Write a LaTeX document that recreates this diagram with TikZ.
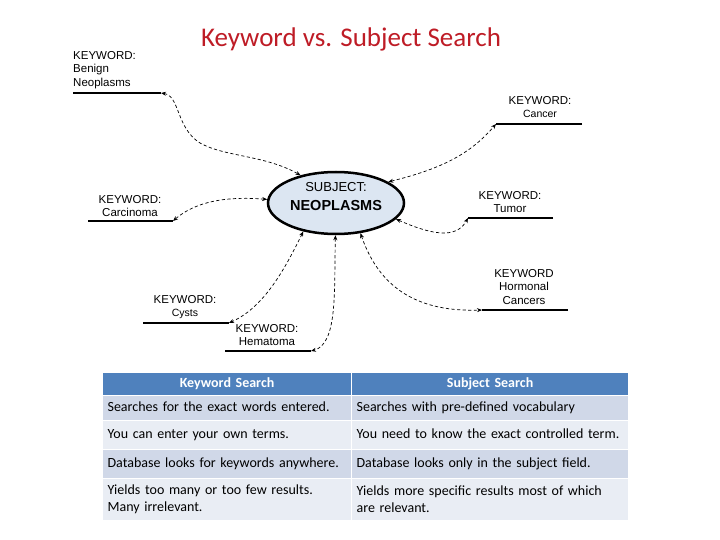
\documentclass[tikz,border=0pt]{standalone}
\usepackage{fontspec}
\setmainfont{Carlito}
\newfontfamily\arialf{Liberation Sans}
\usetikzlibrary{shapes.geometric,arrows.meta}
\definecolor{titlered}{RGB}{190,28,38}
\definecolor{hdrblue}{RGB}{79,129,189}
\definecolor{rowdark}{RGB}{208,216,232}
\definecolor{rowlight}{RGB}{233,237,244}
\definecolor{ellfill}{RGB}{220,230,242}
\begin{document}
\begin{tikzpicture}[x=1pt,y=-1pt,
 kwtext/.style={font=\arialf\fontsize{11.5}{13.8}\selectfont, align=center, inner sep=0pt},
 kwline/.style={line width=2.8pt},
 link/.style={dash pattern=on 3.2pt off 2.4pt, line width=0.7pt, {Stealth[length=5pt,width=4pt]}-{Stealth[length=5pt,width=4pt]}},
 cell/.style={rectangle, fill=#1, draw=white, line width=1.2pt, anchor=north west, inner xsep=5pt, inner ysep=0pt, font=\fontsize{14}{17}\selectfont, align=left},
 one/.style={text height=10pt, text depth=3.5pt},
 hcell/.style={cell=hdrblue, text=white, align=center, font=\fontsize{14}{17}\selectfont\bfseries, one},
]
\useasboundingbox (0,0) rectangle (720,540);

% title
\node[font=\fontsize{27}{32}\selectfont, text=titlered] (title) at (351,39) {Keyword vs. Subject Search};

% subject ellipse
\node[ellipse, draw, line width=2.5pt, fill=ellfill, minimum width=136pt, minimum height=62pt, inner sep=0pt] (subj) at (336,203) {};
\node[font=\arialf\fontsize{13}{15}\selectfont, inner sep=0pt] (subjA) at (336,187) {SUBJECT:};
\node[font=\arialf\fontsize{14.5}{16}\selectfont\bfseries, inner sep=0pt] (subjB) at (336,206) {NEOPLASMS};

% keyword labels
\node[kwtext, align=left, anchor=west] (kb) at (73,70) {KEYWORD:\\Benign\\Neoplasms};
\coordinate (kbS) at (73,93); \coordinate (kbE) at (161,93);
\draw[kwline] (kbS) -- (kbE);

\node[kwtext] (kc) at (540,107) {KEYWORD:\\{\fontsize{10.5}{12}\selectfont Cancer}};
\coordinate (kcS) at (582,124); \coordinate (kcE) at (496,124);
\draw[kwline] (kcS) -- (kcE);

\node[kwtext] (kr) at (130,206) {KEYWORD:\\Carcinoma};
\coordinate (krS) at (88,221); \coordinate (krE) at (173,221);
\draw[kwline] (krS) -- (krE);

\node[kwtext] (kt) at (510,202) {KEYWORD:\\Tumor};
\coordinate (ktS) at (553,218); \coordinate (ktE) at (468,218);
\draw[kwline] (ktS) -- (ktE);

\node[kwtext] (kh) at (524,287) {KEYWORD\\Hormonal\\Cancers};
\coordinate (khS) at (568,310); \coordinate (khE) at (482,310);
\draw[kwline] (khS) -- (khE);

\node[kwtext] (ky) at (185,307) {KEYWORD:\\{\fontsize{10.5}{12}\selectfont Cysts}};
\coordinate (kyS) at (143,323); \coordinate (kyE) at (229,323);
\draw[kwline] (kyS) -- (kyE);

\node[kwtext] (km) at (267,335) {KEYWORD:\\Hematoma};
\coordinate (kmS) at (225,351); \coordinate (kmE) at (311,351);
\draw[kwline] (kmS) -- (kmE);

% connectors
\draw[link] (kbE) .. controls (180,96) and (176,128) .. (200,143) .. controls (225,157) and (265,155) .. (subj.142);
\draw[link] (subj.22) .. controls (445,168) and (472,152) .. (kcE);
\draw[link] (subj.177) .. controls (225,196) and (195,202) .. (krE);
\draw[link] (subj.-15) .. controls (430,234) and (456,240) .. (ktE);
\draw[link] (subj.-51) .. controls (380,290) and (420,312) .. (khE);
\draw[link] (subj.-139) .. controls (282,275) and (262,308) .. (kyE);
\draw[link] (subj.-91) .. controls (334,290) and (338,344) .. (kmE);

% table
\node[hcell, text width=239pt, minimum height=23pt] (h1) at (102,372) {Keyword Search};
\node[hcell, text width=267pt, minimum height=23pt] (h2) at (351,372) {Subject Search};
\node[cell=rowdark, one, text width=239pt, minimum height=25pt] (a1) at (102,395) {Searches for the exact words entered.};
\node[cell=rowdark, one, text width=267pt, minimum height=25pt] (a2) at (351,395) {Searches with pre-defined vocabulary};
\node[cell=rowlight, one, text width=239pt, minimum height=29pt] (b1) at (102,420) {You can enter your own terms.};
\node[cell=rowlight, one, text width=267pt, minimum height=29pt] (b2) at (351,420) {You need to know the exact controlled term.};
\node[cell=rowdark, one, text width=239pt, minimum height=29pt] (c1) at (102,449) {Database looks for keywords anywhere.};
\node[cell=rowdark, one, text width=267pt, minimum height=29pt] (c2) at (351,449) {Database looks only in the subject field.};
\node[cell=rowlight, text width=239pt, minimum height=42pt] (d1) at (102,478) {Yields too many or too few results.\\Many irrelevant.};
\node[cell=rowlight, text width=267pt, minimum height=42pt] (d2) at (351,478) {Yields more specific results most of which\\are relevant.};
\end{tikzpicture}
\end{document}
